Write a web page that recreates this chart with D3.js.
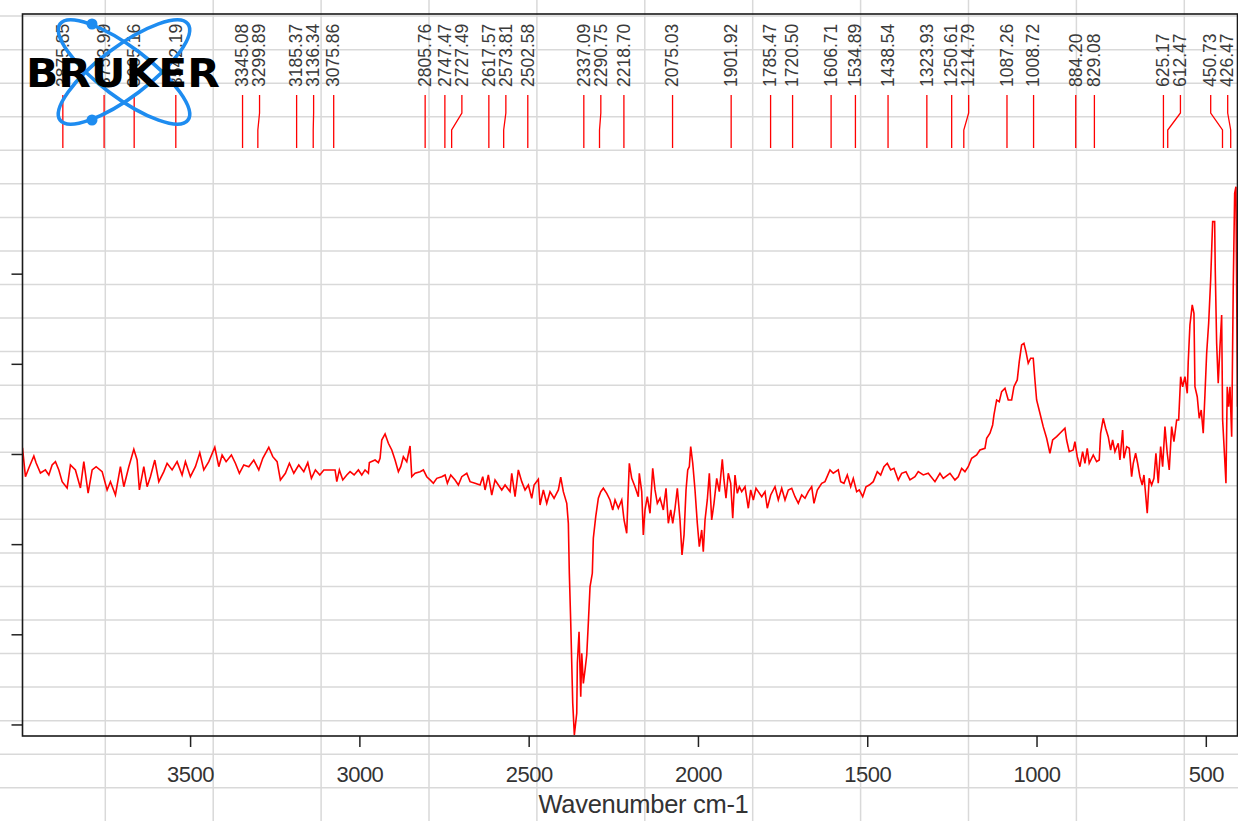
<!DOCTYPE html>
<html>
<head>
<meta charset="utf-8">
<script src="https://cdn.jsdelivr.net/npm/d3@7/dist/d3.min.js"></script>
<style>
  html, body { margin: 0; padding: 0; background: #fff; }
  svg { display: block; }
</style>
</head>
<body>
<svg id="chart" width="1238" height="821"></svg>
<script>
// IR spectrum: wavenumber (cm-1) and signal (arbitrary units, tick step = 10)
const wavenumber = [
3995,3986.3,3976.3,3961.5,3954.7,3942.0,3927.3,3917.2,3907.5,3897.7,3887.7,3877.9,3863.2,3853.4,3838.7,3823.9,3813.9,3801.2,3789.3,3777.5,
3759.8,3745.1,3735.3,3720.5,3705.8,3695.7,3681.0,3666.2,3656.5,3649.7,3636.7,3626.9,3617.2,3604.2,3592.4,3577.6,3567.9,3553.1,3538.4,3523.6,
3513.8,3499.1,3484.3,3471.3,3459.5,3444.7,3427.0,3415.2,3405.5,3393.6,3378.0,3366.2,3354.4,3341.4,3326.6,3311.9,3297.1,3285.3,3267.6,3255.8,
3243.0,3233.3,3218.5,3206.7,3193.7,3179.0,3164.2,3152.4,3141.7,3129.9,3116.9,3105.1,3085.6,3071.8,3066.7,3059.1,3049.0,3037.2,3027.5,3015.6,
3002.9,2992.9,2983.2,2973.4,2970.5,2953.6,2943.9,2938.9,2933.9,2924.1,2914.4,2904.3,2894.6,2884.8,2877.8,2870.1,2860.0,2850.3,2845.3,2835.5,
2820.7,2811.0,2801.0,2791.2,2781.5,2771.4,2756.7,2746.9,2740.1,2730.1,2717.4,2707.6,2697.6,2682.8,2673.1,2658.3,2643.6,2635.6,2628.8,2619.1,
2609.0,2599.3,2589.5,2579.5,2569.7,2555.0,2550.0,2540.2,2530.5,2520.4,2510.7,2500.9,2490.9,2484.1,2471.4,2466.4,2456.6,2446.6,2436.9,2425.0,
2412.3,2405.3,2397.6,2387.5,2382.8,2379.9,2375.7,2369.8,2365.1,2358.0,2356.2,2351.2,2346.2,2343.2,2338.5,2333.5,2328.5,2323.8,2318.7,2312.0,
2309.0,2301.9,2294.2,2287.1,2279.4,2269.4,2259.7,2251.7,2244.9,2235.2,2225.1,2218.3,2210.4,2205.6,2202.7,2195.6,2185.9,2176.1,2173.2,2166.1,
2161.4,2156.4,2149.6,2141.6,2133.6,2126.8,2120.0,2112.0,2102.3,2094.3,2087.5,2080.4,2074.5,2067.7,2060.9,2053.0,2047.1,2041.1,2035.2,2030.2,
2025.5,2021.4,2015.4,2008.7,2001.9,1996.0,1988.9,1984.2,1979.1,1972.4,1966.4,1959.4,1952.6,1944.6,1936.9,1928.1,1923.1,1917.2,1910.4,1903.3,
1897.3,1890.6,1883.8,1877.8,1870.8,1861.0,1851.3,1844.2,1836.5,1828.6,1821.8,1811.7,1802.0,1795.2,1785.1,1772.4,1762.7,1752.6,1742.9,1733.1,
1723.1,1713.4,1703.6,1693.6,1683.8,1674.1,1664.1,1657.3,1647.5,1634.5,1624.8,1610.0,1600.3,1585.5,1578.4,1568.7,1558.9,1548.9,1541.2,1531.2,
1523.5,1513.4,1503.7,1494.0,1482.2,1470.3,1460.3,1450.6,1440.8,1430.8,1421.0,1408.4,1398.3,1385.6,1373.8,1359.0,1349.3,1334.5,1319.8,1300.0,
1285.2,1275.5,1255.7,1241.0,1231.2,1221.1,1211.4,1201.7,1191.6,1176.8,1167.1,1152.3,1147.3,1137.5,1129.6,1125.7,1117.8,1110.1,1103.0,1093.2,
1083.5,1073.5,1066.7,1056.9,1051.0,1044.0,1037.2,1031.2,1024.5,1017.4,1009.7,1004.7,999.7,989.9,980.2,970.1,960.4,952.4,940.6,930.8,
916.1,911.1,903.4,891.6,886.6,879.8,871.8,863.8,857.0,850.2,844.3,832.5,822.5,814.8,810.7,803.0,795.9,788.2,781.1,775.2,
768.4,758.7,753.6,745.7,741.8,733.8,726.1,719.1,714.3,707.3,701.4,694.6,687.8,682.7,676.8,673.0,667.1,660.0,653.2,647.3,
640.5,633.4,627.5,620.7,613.9,608.0,600.9,594.1,586.1,580.2,574.3,568.4,561.6,554.8,551.9,546.9,540.1,535.0,532.1,525.3,
519.4,513.5,507.6,502.6,497.5,491.6,485.7,479.8,473.9,472.1,468.0,463.3,458.2,453.2,450.3,443.5,440.5,436.7,432.6,428.6,
423.6,418.9,414.8,411.0,406.4
];
const signal = [
0.67,-2.52,-1.55,-0.22,-1.00,-2.11,-1.77,-2.33,-1.22,-0.85,-1.77,-3.07,-3.77,-1.22,-1.77,-3.77,-0.85,-4.33,-1.77,-1.41,
-1.96,-3.99,-3.07,-4.55,-1.41,-3.63,-1.41,0.52,-0.67,-3.99,-1.41,-3.63,-2.52,-0.67,-3.07,-1.96,-1.03,-1.77,-0.85,-2.33,
-0.85,-2.52,-1.41,0.14,-1.77,-0.85,0.74,-1.41,-0.11,-0.85,-0.11,-1.03,-2.14,-1.22,-1.41,-0.67,-1.77,-0.48,0.74,-0.30,
-0.85,-2.88,-2.14,-1.03,-2.14,-1.22,-1.96,-0.96,-2.70,-1.77,-2.33,-1.77,-1.77,-1.77,-3.07,-1.77,-2.88,-2.33,-1.96,-2.33,
-1.77,-2.33,-1.77,-2.14,-0.96,-0.67,-0.96,-0.48,1.55,2.22,1.19,0.44,-0.67,-1.96,-1.41,-0.30,-0.85,0.89,-2.52,-2.14,
-1.96,-1.77,-2.52,-2.88,-3.25,-2.70,-2.52,-2.33,-3.25,-2.33,-2.88,-3.44,-2.52,-2.14,-3.07,-3.25,-3.44,-2.52,-3.99,-2.33,
-4.55,-2.88,-3.44,-3.99,-3.44,-4.18,-2.14,-4.74,-1.77,-3.07,-3.99,-3.44,-4.91,-3.44,-2.81,-5.66,-3.99,-5.47,-4.18,-4.91,
-3.99,-2.58,-4.18,-5.47,-7.69,-13.23,-18.78,-27.66,-31.17,-28.76,-23.22,-19.71,-26.92,-22.11,-25.44,-23.96,-22.30,-18.78,-14.72,-13.23,
-9.35,-6.95,-4.91,-4.18,-3.80,-4.36,-5.10,-6.21,-5.10,-6.02,-5.10,-7.32,-8.79,-3.80,-1.03,-2.70,-3.63,-4.74,-2.14,-4.18,
-8.98,-6.21,-4.74,-6.58,-1.59,-3.99,-5.47,-4.91,-6.21,-3.80,-7.69,-6.21,-7.69,-6.02,-3.80,-7.32,-11.20,-8.98,-3.99,-1.77,
-1.41,0.81,-1.03,-3.99,-7.69,-10.28,-8.43,-10.84,-7.32,-5.10,-2.14,-7.32,-5.47,-2.70,-4.18,-0.59,-2.88,-4.91,-2.14,-3.25,
-7.13,-2.33,-4.36,-3.63,-4.18,-3.63,-6.02,-3.99,-5.10,-3.80,-4.18,-4.74,-4.18,-6.02,-4.55,-3.63,-5.10,-3.80,-5.10,-3.99,
-3.80,-4.74,-5.47,-4.55,-4.91,-4.18,-3.63,-5.47,-3.99,-3.25,-3.07,-1.77,-2.14,-1.77,-3.07,-3.25,-2.33,-3.63,-2.70,-4.18,
-3.99,-4.74,-3.63,-3.44,-3.07,-1.96,-2.33,-1.41,-1.03,-1.77,-1.59,-2.88,-2.14,-1.96,-2.88,-2.52,-1.96,-2.33,-2.14,-3.07,
-2.14,-2.70,-2.14,-2.88,-2.52,-1.59,-1.96,-1.41,-0.48,-0.11,0.44,0.63,1.74,2.30,3.22,4.33,5.99,5.80,6.91,7.29,
5.99,5.99,7.46,8.21,10.24,12.09,12.28,11.35,10.06,10.62,10.62,8.21,5.99,4.51,3.03,1.74,0.08,1.55,1.92,2.30,
2.85,1.55,0.26,0.44,1.36,-0.30,-1.41,0.26,-1.03,0.63,-1.03,-0.11,-0.85,-0.67,2.30,3.96,2.85,1.92,0.44,1.55,
0.26,1.19,-0.67,2.66,-0.48,0.81,0.63,-2.52,-1.03,0.08,-1.03,-2.52,-3.44,-2.33,-4.91,-6.58,-2.70,-3.44,-2.70,0.08,
-3.25,0.81,-1.41,3.03,0.08,-1.77,3.03,1.36,3.77,3.77,8.57,7.46,8.57,6.73,10.24,14.31,16.53,15.61,7.46,6.35,
3.96,4.88,2.30,6.54,11.17,14.50,19.30,25.77,25.77,20.41,12.28,7.84,11.90,15.42,3.77,-1.03,-3.25,7.46,5.25,7.46,
1.92,18.75,28.92,29.65,5.25
];

// Picked peak positions (cm-1)
const peakPositions = [
3875.85,3753.99,3665.16,3542.19,3345.08,3299.89,3185.37,3136.34,3075.86,
2805.76,2747.47,2727.49,2617.57,2573.81,2502.58,2337.09,2290.75,2218.70,
2075.03,1901.92,1785.47,1720.50,1606.71,1534.89,1438.54,1323.93,1250.61,
1214.79,1087.26,1008.72,884.20,829.08,625.17,612.47,450.73,426.47
];

const xTicks = [3500, 3000, 2500, 2000, 1500, 1000, 500];
const yTicks = [-30, -20, -10, 0, 10, 20];
const xDomain = [3995, 406.4];
const yDomain = [-31.28, 48.8];
const xTitle = "Wavenumber cm-1";

const W = 1238, H = 821;
const plot = { left: 22.5, right: 1237.5, top: 14, bottom: 736 };

const svg = d3.select("#chart");

// worksheet cell grid behind the chart
const cellW = 107.9, cellH = 33.55, cellX0 = 105.3, cellY0 = 16.1;
const gridG = svg.append("g").attr("stroke", "#d9d9d9").attr("stroke-width", 1.5);
for (let gx = cellX0 - cellW; gx < W; gx += cellW) {
  if (gx > 0) gridG.append("line").attr("x1", gx).attr("x2", gx).attr("y1", 0).attr("y2", H);
}
for (let gy = cellY0; gy < H; gy += cellH) {
  gridG.append("line").attr("x1", 0).attr("x2", W).attr("y1", gy).attr("y2", gy);
}

const x = d3.scaleLinear().domain(xDomain).range([plot.left, plot.right]);
const y = d3.scaleLinear().domain(yDomain).range([plot.bottom, plot.top]);

// spectrum trace
const pts = wavenumber.map((w, i) => [w, signal[i]]);
svg.append("defs").append("clipPath").attr("id", "plotClip")
  .append("rect").attr("x", plot.left).attr("y", plot.top)
  .attr("width", plot.right - plot.left).attr("height", plot.bottom - plot.top);

svg.append("path")
  .datum(pts)
  .attr("clip-path", "url(#plotClip)")
  .attr("fill", "none")
  .attr("stroke", "#ff0000")
  .attr("stroke-width", 1.6)
  .attr("stroke-linejoin", "miter")
  .attr("d", d3.line().x(d => x(d[0])).y(d => y(d[1])));

// axes
const xAxis = svg.append("g")
  .attr("transform", `translate(0,${plot.bottom})`)
  .call(d3.axisBottom(x).tickValues(xTicks).tickSize(11).tickPadding(19).tickFormat(d3.format("d")));
xAxis.select(".domain").remove();
xAxis.selectAll(".tick line").attr("stroke", "#222").attr("stroke-width", 1.5);
xAxis.selectAll(".tick text")
  .attr("font-family", "'Liberation Sans', Arial, sans-serif")
  .attr("font-size", 22)
  .attr("letter-spacing", "-0.5px")
  .attr("fill", "#333");

const yAxis = svg.append("g")
  .attr("transform", `translate(${plot.left},0)`)
  .call(d3.axisLeft(y).tickValues(yTicks).tickSize(11).tickFormat(""));
yAxis.select(".domain").remove();
yAxis.selectAll(".tick line").attr("stroke", "#222").attr("stroke-width", 1.5);

// frame
svg.append("rect")
  .attr("x", plot.left).attr("y", plot.top)
  .attr("width", plot.right - plot.left).attr("height", plot.bottom - plot.top)
  .attr("fill", "none").attr("stroke", "#1a1a1a").attr("stroke-width", 1.6);

svg.append("text")
  .attr("x", 643.5).attr("y", 813)
  .attr("text-anchor", "middle")
  .attr("font-family", "'Liberation Sans', Arial, sans-serif")
  .attr("font-size", 25.5)
  .attr("letter-spacing", "-0.3px")
  .attr("fill", "#333")
  .text(xTitle);

// peak labels: spread left-to-right so rotated texts don't collide
const gap = 17, labelMax = plot.right - 9.8;
const peaks = peakPositions.map(w => ({ w, px: x(w) })).sort((a, b) => a.px - b.px);
peaks.forEach((p, i) => { p.lx = i === 0 ? p.px : Math.max(p.px, peaks[i - 1].lx + gap); });
for (let i = peaks.length - 1; i >= 0; i--) {
  const lim = i === peaks.length - 1 ? labelMax : peaks[i + 1].lx - gap;
  peaks[i].lx = Math.min(peaks[i].lx, lim);
}

const leadTop = 95, knee1 = 113, knee2 = 130, leadBottom = 148;
const peakG = svg.append("g");
peakG.selectAll("path.lead").data(peaks).join("path")
  .attr("class", "lead")
  .attr("fill", "none").attr("stroke", "#ff0000").attr("stroke-width", 1.3)
  .attr("d", p => `M${p.lx},${leadTop}V${knee1}L${p.px},${knee2}V${leadBottom}`);

peakG.selectAll("text").data(peaks).join("text")
  .attr("transform", p => `translate(${p.lx},87) rotate(-90)`)
  .attr("dy", "0.33em")
  .attr("text-anchor", "start")
  .attr("font-family", "'Liberation Sans', Arial, sans-serif")
  .attr("font-size", 17.5)
  .attr("fill", "#3a3a3a")
  .text(p => p.w.toFixed(2));

// manufacturer logo
const logo = svg.append("g");
const cx = 124, cy = 72;
[37, -37].forEach(a => {
  logo.append("ellipse")
    .attr("cx", cx).attr("cy", cy).attr("rx", 80).attr("ry", 25)
    .attr("transform", `rotate(${a},${cx},${cy})`)
    .attr("fill", "none").attr("stroke", "#1e8cf0").attr("stroke-width", 3.6);
});
[[92, 24], [92, 120]].forEach(([dx, dy]) => {
  logo.append("circle").attr("cx", dx).attr("cy", dy).attr("r", 5.5).attr("fill", "#1e8cf0");
});
logo.append("text")
  .attr("x", 26).attr("y", 87)
  .attr("font-family", "'DejaVu Sans', sans-serif")
  .attr("font-weight", "bold")
  .attr("font-size", 39)
  .attr("textLength", 194)
  .attr("lengthAdjust", "spacingAndGlyphs")
  .attr("fill", "#000")
  .text("BRUKER");
</script>
</body>
</html>
